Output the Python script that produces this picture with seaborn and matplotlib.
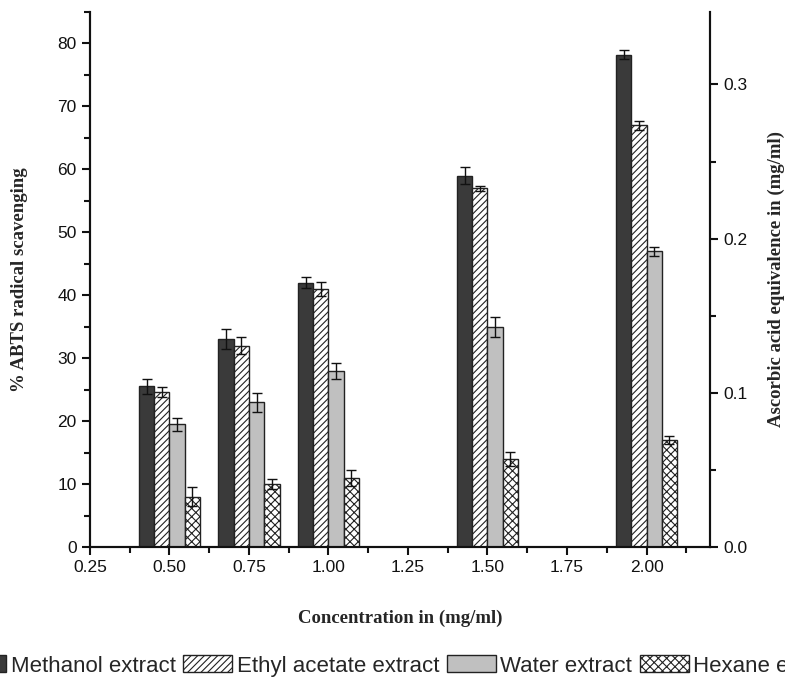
import numpy as np
import pandas as pd
import seaborn as sns
import matplotlib.pyplot as plt
from matplotlib.ticker import MultipleLocator, FormatStrFormatter

# values
conc = [0.50, 0.75, 1.00, 1.50, 2.00]
extracts = ["Methanol extract", "Ethyl acetate extract", "Water extract", "Hexane extract"]
methanol = [25.5, 33.0, 42.0, 59.0, 78.2]
ethyl = [24.6, 32.0, 41.0, 57.0, 67.0]
water = [19.5, 23.0, 28.0, 35.0, 47.0]
hexane = [8.0, 10.0, 11.0, 14.0, 17.0]
methanol_err = [1.2, 1.6, 0.9, 1.4, 0.7]
ethyl_err = [0.8, 1.3, 1.1, 0.4, 0.7]
water_err = [1.0, 1.5, 1.3, 1.6, 0.7]
hexane_err = [1.5, 0.8, 1.3, 1.1, 0.7]

values = [methanol, ethyl, water, hexane]
errors = [methanol_err, ethyl_err, water_err, hexane_err]
colors = ["#3a3a3a", "white", "#c0c0c0", "white"]
hatches = [None, "/////", None, "xxxx"]

rows = []
for name, vals in zip(extracts, values):
    for c, v in zip(conc, vals):
        rows.append({"conc": c, "extract": name, "value": v})
df = pd.DataFrame(rows)

sns.set_style("ticks")
plt.rcParams["font.family"] = ["Liberation Sans", "DejaVu Sans"]
plt.rcParams["hatch.linewidth"] = 0.8
plt.rcParams["hatch.color"] = "#555555"

fig = plt.figure(figsize=(7.85, 6.81), dpi=100)
ax = fig.add_axes([0.1146, 0.1968, 0.79, 0.7856])

sns.barplot(data=df, x="conc", y="value", hue="extract", hue_order=extracts,
            palette=dict(zip(extracts, colors)), native_scale=True, width=0.77,
            errorbar=None, edgecolor="#222222", linewidth=1.0, saturation=1,
            legend=False, ax=ax)

for cont, h, errs in zip(ax.containers, hatches, errors):
    bars = sorted(cont.patches, key=lambda p: p.get_x())
    xs = []
    ys = []
    for p in bars:
        if h:
            p.set_hatch(h)
        xs.append(p.get_x() + p.get_width() / 2)
        ys.append(p.get_height())
    ax.errorbar(xs, ys, yerr=errs, fmt="none", ecolor="#111111",
                elinewidth=1.0, capsize=3.5, capthick=1.0, zorder=5)

ax.set_xlim(0.25, 2.2)
ax.set_ylim(0, 85)
ax.xaxis.set_major_locator(MultipleLocator(0.25))
ax.xaxis.set_minor_locator(MultipleLocator(0.125))
ax.xaxis.set_major_formatter(FormatStrFormatter("%.2f"))
ax.yaxis.set_major_locator(MultipleLocator(10))
ax.yaxis.set_minor_locator(MultipleLocator(5))

ax2 = ax.twinx()
ax2.set_ylim(0, 0.347)
ax2.yaxis.set_major_locator(MultipleLocator(0.1))
ax2.yaxis.set_minor_locator(MultipleLocator(0.05))
ax2.yaxis.set_major_formatter(FormatStrFormatter("%.1f"))

for a in (ax, ax2):
    a.spines["top"].set_visible(False)
    for s in a.spines.values():
        s.set_linewidth(1.5)
        s.set_color("#111111")
    a.tick_params(which="major", direction="out", length=6, width=1.5,
                  labelsize=12.5, colors="#111111")
    a.tick_params(which="minor", direction="out", length=4, width=1.5,
                  colors="#111111")

label_font = dict(family=["Liberation Serif", "DejaVu Serif"], weight="bold", size=13.5)
ax.set_xlabel("Concentration in (mg/ml)", **label_font)
ax.xaxis.set_label_coords(0.5, -0.118)
ax.set_ylabel("% ABTS radical scavenging", **label_font)
ax.yaxis.set_label_coords(-0.1, 0.5)
ax2.set_ylabel("Ascorbic acid equivalence in (mg/ml)", **label_font)
ax2.yaxis.set_label_coords(1.0935, 0.5)

handles = [plt.Rectangle((0, 0), 1, 1, facecolor=c, edgecolor="#222222",
                         hatch=h, linewidth=1.0) for c, h in zip(colors, hatches)]
fig.legend(handles, extracts, loc="center", bbox_to_anchor=(0.51, 0.022),
           ncol=4, frameon=False, fontsize=16, handlelength=2.2, handleheight=0.8,
           handletextpad=0.2, columnspacing=0.35, borderpad=0, borderaxespad=0)

plt.savefig("out.png", dpi=100)
